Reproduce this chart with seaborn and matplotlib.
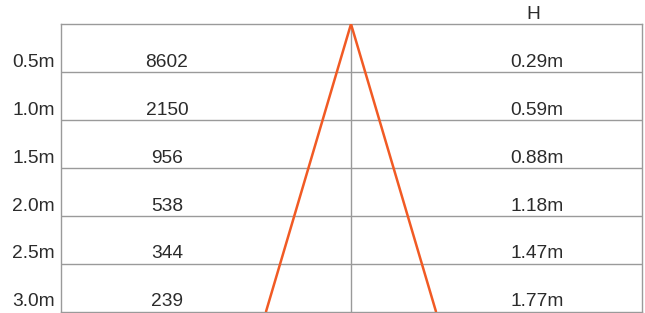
import matplotlib
matplotlib.use("Agg")
import matplotlib.pyplot as plt
import seaborn as sns
import pandas as pd

# ---- data ----
distance_labels = ["0.5m", "1.0m", "1.5m", "2.0m", "2.5m", "3.0m"]
distances = [0.5, 1.0, 1.5, 2.0, 2.5, 3.0]
lux_values = ["8602", "2150", "956", "538", "344", "239"]
h_labels = ["0.29m", "0.59m", "0.88m", "1.18m", "1.47m", "1.77m"]
h_values = [0.29, 0.59, 0.88, 1.18, 1.47, 1.77]
header_label = "H"

sns.set_theme(style="white")
plt.rcParams["font.family"] = ["Liberation Sans", "DejaVu Sans"]

GRAY = "#9a9a9a"
ORANGE = "#f15a24"
TXT = "#2b2b2b"
FS = 13.8

fig = plt.figure(figsize=(6.45, 3.13), dpi=100)
ax = fig.add_axes([61 / 645, 1.5 / 313, (642 - 61) / 645, (312 - 24 - 0.5) / 313])

# beam outline: apex at 0, spreads to +/- H/2 at the deepest distance
beam = pd.DataFrame({
    "x": [-h_values[-1] / 2, 0.0, h_values[-1] / 2],
    "y": [distances[-1], 0.0, distances[-1]],
})
sns.lineplot(data=beam, x="x", y="y", sort=False, estimator=None,
             color=ORANGE, lw=1.8, ax=ax, zorder=3)

ax.set_xlim((61 - 351) / 96, (642 - 351) / 96)
ax.set_ylim(distances[-1], 0)

for d in distances[:-1]:
    ax.axhline(d, color=GRAY, lw=1.0, zorder=1)
ax.axvline(0, color=GRAY, lw=1.0, zorder=1)

for s in ax.spines.values():
    s.set_visible(True)
    s.set_color(GRAY)
    s.set_linewidth(1.0)
ax.set_xticks([])
ax.set_yticks([])
ax.set_xlabel("")
ax.set_ylabel("")

off = 0.1
x_left = (55 - 351) / 96
x_mid = (167 - 351) / 96
x_right = (537 - 351) / 96
kw = dict(fontsize=FS, color=TXT, va="center")
for d, lab, lx, hl in zip(distances, distance_labels, lux_values, h_labels):
    ax.text(x_left, d - off, lab, ha="right", clip_on=False, **kw)
    ax.text(x_mid, d - off, lx, ha="center", **kw)
    ax.text(x_right, d - off, hl, ha="center", **kw)
ax.text((533 - 351) / 96, -0.1, header_label, ha="center", clip_on=False, **kw)

fig.savefig("out.png", dpi=100)
